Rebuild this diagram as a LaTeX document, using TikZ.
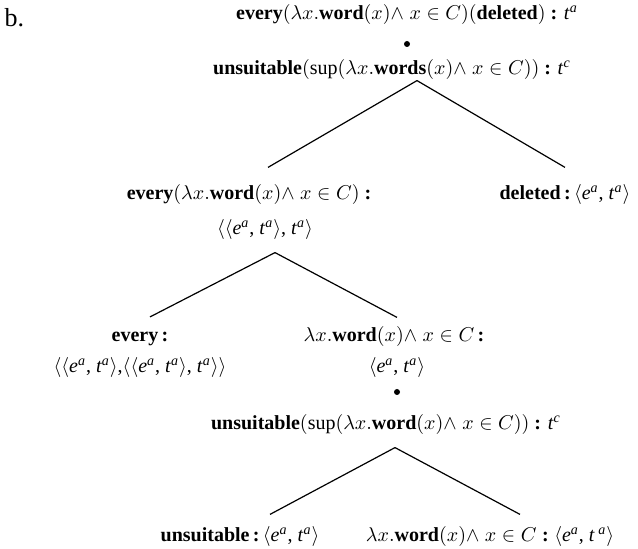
\documentclass[tikz,border=0pt]{standalone}
\usepackage{fontspec}
\setmainfont{Liberation Serif}
\usetikzlibrary{positioning}
\newcommand{\typ}[2]{\textit{#1}\textsuperscript{\textit{#2}}}
\newcommand{\etpair}{$\langle$\typ{e}{a}, \typ{t}{a}$\rangle$}
\newcommand{\andin}{(x)\mathord{\wedge}\;x\in C}
\newcommand{\wordpred}{$\lambda x.\textbf{word}\andin$}
\tikzset{
  every picture/.style={line width=0.6pt},
  lbl/.style={font=\fontsize{10}{12}\selectfont, inner sep=0pt, anchor=base},
  dot/.style={circle, fill, inner sep=0pt, minimum size=3pt},
  branch/.style={draw},
}
\begin{document}
\begin{tikzpicture}[x=0.5pt, y=-0.5pt]
  \useasboundingbox (0,0) rectangle (638,549);
  \node[lbl, anchor=base west, font=\fontsize{13}{15}\selectfont] (lab) at (4,27) {b.};
  % top
  \node[lbl] (root) at (407,20) {\textbf{every}$(\lambda x.\textbf{word}\andin)(\textbf{deleted})$ \textbf{:} \typ{t}{a}};
  \node[dot] (d1) at (407,44) {};
  \node[lbl] (u1) at (392,75) {\textbf{unsuitable}$(\sup(\lambda x.\textbf{words}\andin))$ \textbf{:} \typ{t}{c}};
  \node[lbl] (ev1) at (249,200) {\textbf{every}$(\lambda x.\textbf{word}\andin)$ \textbf{:}};
  \node[lbl] (ev1t) at (265,235) {$\langle\langle$\typ{e}{a}, \typ{t}{a}$\rangle$, \typ{t}{a}$\rangle$};
  \node[lbl] (del) at (565,200) {\textbf{deleted}\,\textbf{:}\,\etpair};
  \draw[branch] ([xshift=12.5pt]u1.south) -- ([xshift=9.5pt, yshift=8.5pt]ev1.north);
  \draw[branch] ([xshift=12.5pt]u1.south) -- ([yshift=8.5pt]del.north);
  % middle
  \node[lbl] (ev2) at (140,342) {\textbf{every\,:}};
  \node[lbl] (ev2t) at (140,373) {$\langle\langle$\typ{e}{a}, \typ{t}{a}$\rangle$,$\langle\langle$\typ{e}{a}, \typ{t}{a}$\rangle$, \typ{t}{a}$\rangle\rangle$};
  \node[lbl] (lam2) at (394,342) {\wordpred\,\textbf{:}};
  \node[lbl] (lam2t) at (397,373) {\etpair};
  \draw[branch] ([xshift=5pt, yshift=-6pt]ev1t.south) -- ([xshift=5pt, yshift=7.5pt]ev2.north);
  \draw[branch] ([xshift=5pt, yshift=-6pt]ev1t.south) -- ([xshift=1.5pt, yshift=4.5pt]lam2.north);
  % bottom
  \node[dot] (d2) at (397,392) {};
  \node[lbl] (u2) at (386,430) {\textbf{unsuitable}$(\sup(\lambda x.\textbf{word}\andin))$ \textbf{:} \typ{t}{c}};
  \node[lbl] (uns3) at (240,542) {\textbf{unsuitable}\,\textbf{:}\,\etpair};
  \node[lbl] (lam3) at (490,542) {\wordpred\;\textbf{:}\;$\langle$\typ{e}{a}, \textit{t}\,\textsuperscript{\textit{a}}$\rangle$};
  \draw[branch] ([xshift=4.5pt, yshift=-6pt]u2.south) -- ([xshift=15pt, yshift=6pt]uns3.north);
  \draw[branch] ([xshift=4.5pt, yshift=-6pt]u2.south) -- ([xshift=15pt, yshift=6pt]lam3.north);
\end{tikzpicture}
\end{document}
